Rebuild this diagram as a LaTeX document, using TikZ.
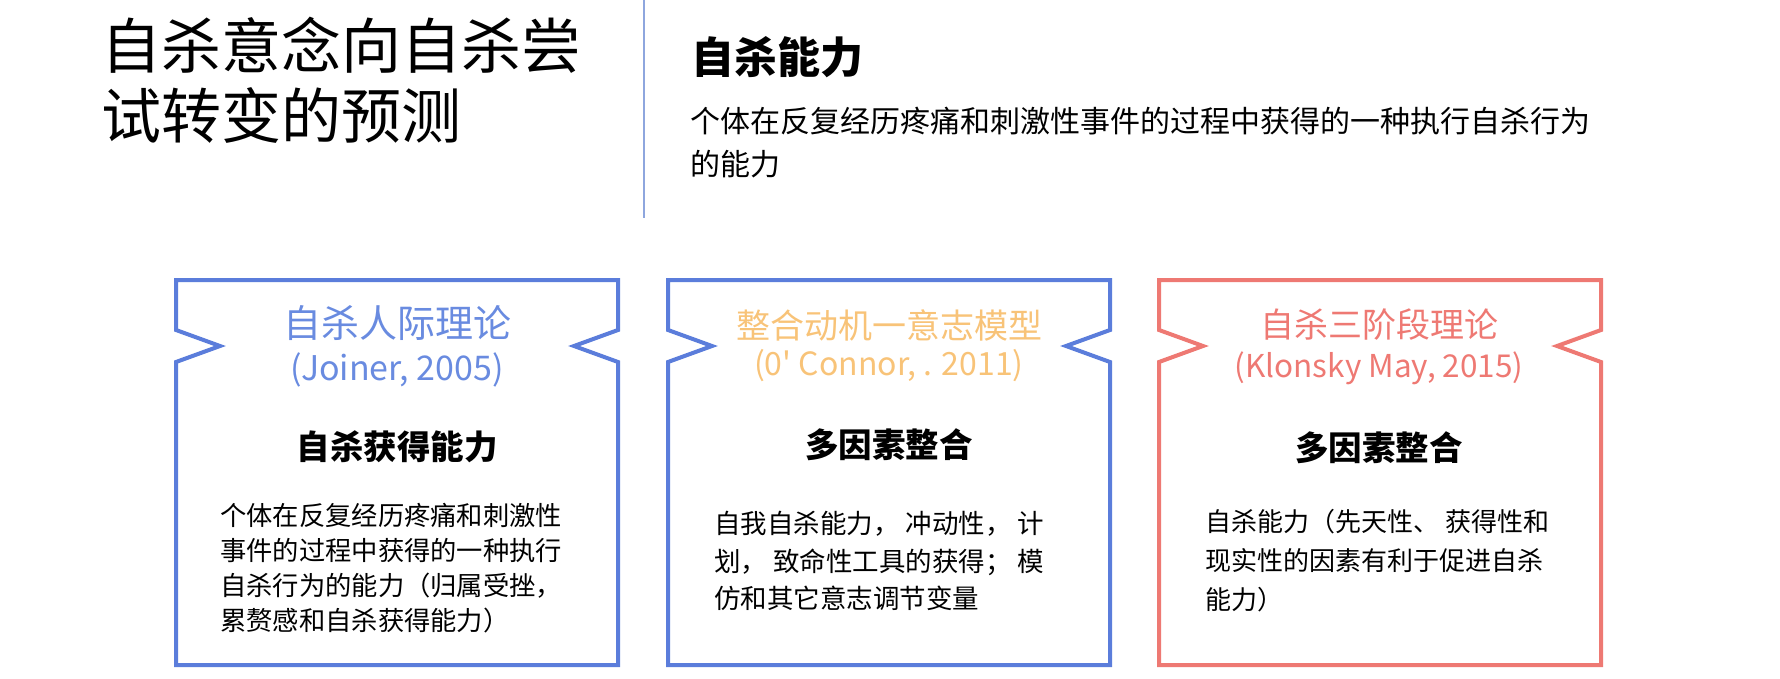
\documentclass[tikz,border=0pt]{standalone}
\usepackage{fontspec}
\setmainfont{Noto Sans CJK SC}
\newfontfamily\plainfont{Noto Sans CJK SC}
\usepackage{tikz}
\usetikzlibrary{positioning}
\definecolor{theoblue}{RGB}{91,125,219}
\definecolor{titleblue}{RGB}{105,139,224}
\definecolor{titleorange}{RGB}{248,195,120}
\definecolor{theored}{RGB}{238,121,115}
\definecolor{rulegray}{RGB}{142,166,222}
\newcommand{\notchbox}[2]{% #1 = left edge, #2 = colour
  \draw[#2, line width=4pt] (#1,280) -- ++(442,0) -- ++(0,50) -- ++(-44,16) -- ++(44,16)
    -- (#1+442,665) -- (#1,665) -- (#1,362) -- ++(44,-16) -- ++(-44,-16) -- cycle;}

\begin{document}
\begin{tikzpicture}[x=1pt, y=-1pt, node distance=8pt,
  every node/.style={inner sep=0pt},
  boxtitle/.style={font=\fontsize{34}{40}\selectfont},
  boxcite/.style={font=\fontsize{32}{38}\plainfont},
  boxhead/.style={font=\fontsize{33.5}{36}\selectfont\bfseries},
  boxtext/.style={anchor=west, align=left}]
\useasboundingbox (0,0) rectangle (1780,678);
% heading
\node (title) [anchor=west, align=left, font=\fontsize{60}{70}\selectfont] at (101,80) {自杀意念向自杀尝\\试转变的预测};
\coordinate (ruletop) at (644,0);
\coordinate (rulebot) at (644,218);
\draw [rulegray, line width=1.5pt] (ruletop) -- (rulebot);
\node (ability) [anchor=west, font=\fontsize{43}{46}\selectfont\bfseries] at (691,57) {自杀能力};
\node (abilitytext) [anchor=west, align=left, font=\fontsize{30}{43}\selectfont] at (690,143) {个体在反复经历疼痛和刺激性事件的过程中获得的一种执行自杀行为\\的能力};
% three theories
\notchbox{176}{theoblue}
\notchbox{668}{theoblue}
\notchbox{1159}{theored}
\node (joiner) [boxtitle, text=titleblue, font=\fontsize{38}{40}\selectfont] at (397,323) {自杀人际理论};
\node (joinercite) [boxcite, text=titleblue, font=\fontsize{34}{38}\plainfont] at (397,370) {(Joiner, 2005)};
\node (joinerhead) [boxhead] at (397,447) {自杀获得能力};
\node (joinertext) [boxtext, font=\fontsize{26.3}{35}\selectfont] at (220,568) {个体在反复经历疼痛和刺激性\\事件的过程中获得的一种执行\\自杀行为的能力（归属受挫，\\累赘感和自杀获得能力）};
\node (oconnor) [boxtitle, text=titleorange] at (889,325) {整合动机一意志模型};
\node (oconnorcite) [boxcite, text=titleorange] at (889,366) {(0' Connor, . 2011)};
\node (oconnorhead) [boxhead] at (889,445) {多因素整合};
\node (oconnortext) [boxtext, font=\fontsize{26.5}{37.5}\selectfont] at (714,561) {自我自杀能力，\ 冲动性，\ 计\\划，\ 致命性工具的获得；\ 模\\仿和其它意志调节变量};
\node (klonsky) [boxtitle, text=theored] at (1379,325) {自杀三阶段理论};
\node (klonskycite) [boxcite, text=theored, font=\fontsize{31.5}{38}\plainfont] at (1379,368) {(Klonsky May, 2015)};
\node (klonskyhead) [boxhead] at (1379,448) {多因素整合};
\node (klonskytext) [boxtext, font=\fontsize{26}{39}\selectfont] at (1205,561) {自杀能力（先天性、\ 获得性和\\现实性的因素有利于促进自杀\\能力）};
\end{tikzpicture}
\end{document}
